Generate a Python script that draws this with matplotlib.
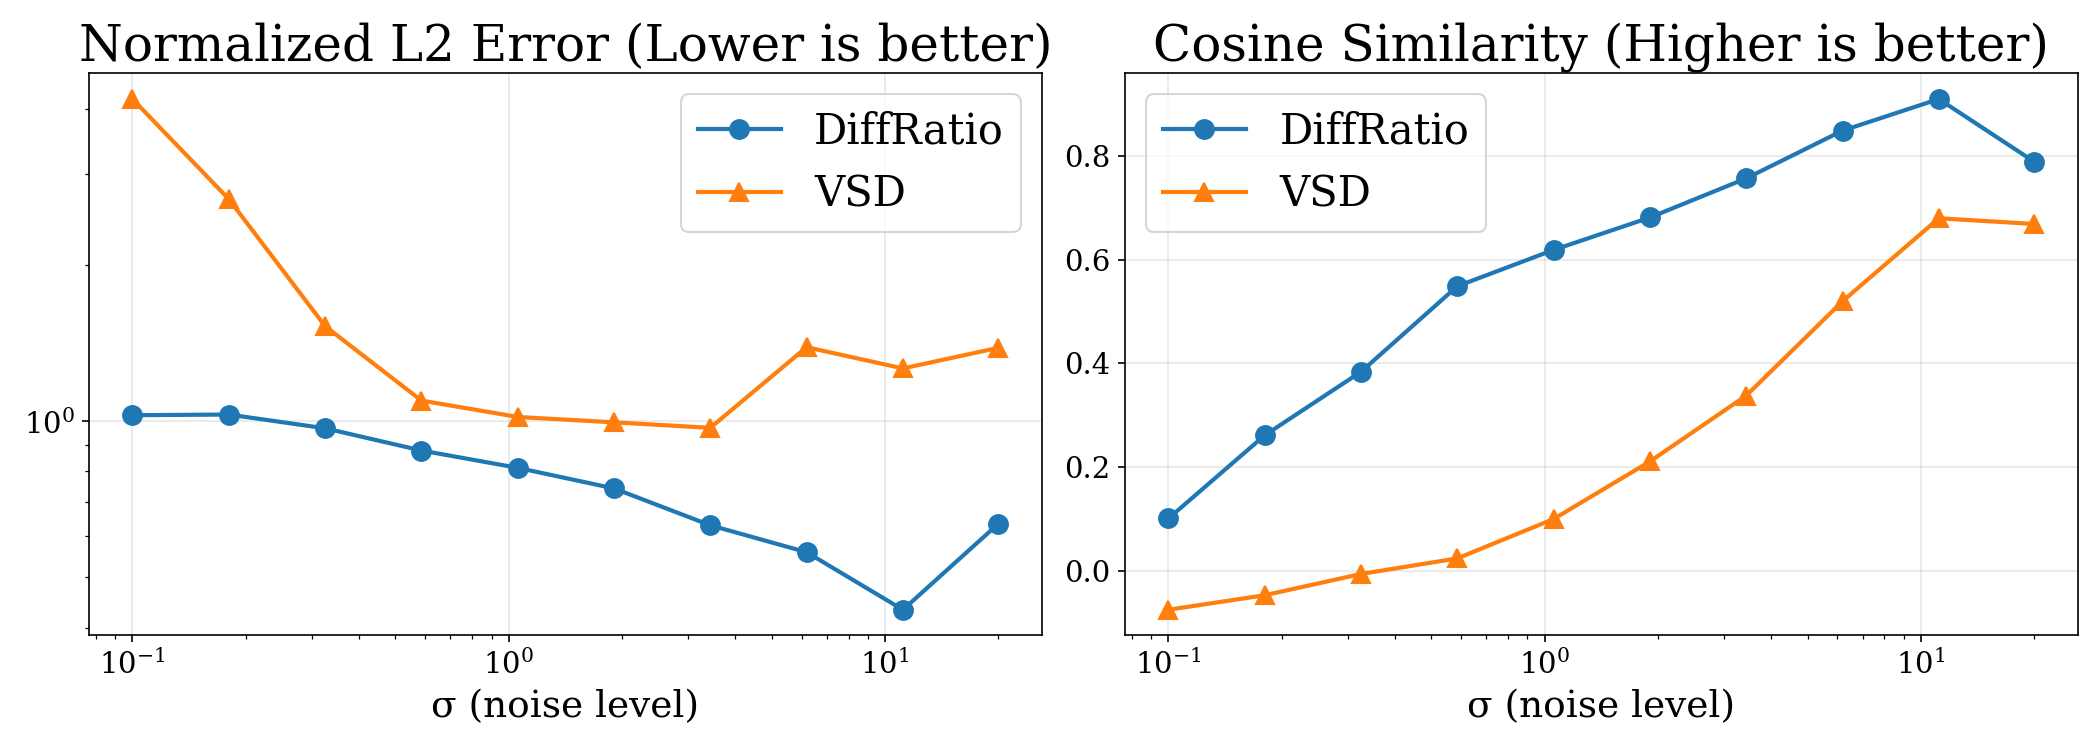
import matplotlib
matplotlib.use("Agg")
import matplotlib.pyplot as plt

plt.rcParams["font.family"] = "DejaVu Serif"

# noise levels (sigma)
sigmas = [0.1, 0.1803, 0.325, 0.5859, 1.0563, 1.9043, 3.4331, 6.1893, 11.158, 20.0]

# normalized L2 error
l2_diffratio = [1.027, 1.030, 0.969, 0.878, 0.813, 0.742, 0.630, 0.559, 0.433, 0.634]
l2_vsd = [4.18, 2.68, 1.525, 1.096, 1.019, 0.995, 0.971, 1.389, 1.264, 1.385]

# cosine similarity
cos_diffratio = [0.101, 0.2615, 0.384, 0.549, 0.619, 0.6815, 0.757, 0.849, 0.91, 0.789]
cos_vsd = [-0.075, -0.047, -0.006, 0.024, 0.100, 0.211, 0.338, 0.520, 0.680, 0.669]

fig, (ax1, ax2) = plt.subplots(1, 2, figsize=(14, 5))

ax1.plot(sigmas, l2_diffratio, "o-", lw=2, markersize=9, label="DiffRatio")
ax1.plot(sigmas, l2_vsd, "^-", lw=2, markersize=9, label="VSD")
ax1.set_xscale("log")
ax1.set_yscale("log")
ax1.set_title("Normalized L2 Error (Lower is better)", fontsize=24)
ax1.set_xlabel("σ (noise level)", fontsize=18)
ax1.legend(fontsize=20)
ax1.grid(True, alpha=0.3)
ax1.tick_params(labelsize=14)

ax2.plot(sigmas, cos_diffratio, "o-", lw=2, markersize=9, label="DiffRatio")
ax2.plot(sigmas, cos_vsd, "^-", lw=2, markersize=9, label="VSD")
ax2.set_xscale("log")
ax2.set_title("Cosine Similarity (Higher is better)", fontsize=24)
ax2.set_xlabel("σ (noise level)", fontsize=18)
ax2.legend(fontsize=20)
ax2.grid(True, alpha=0.3)
ax2.tick_params(labelsize=14)

plt.tight_layout()
plt.savefig("out.png", dpi=150)
